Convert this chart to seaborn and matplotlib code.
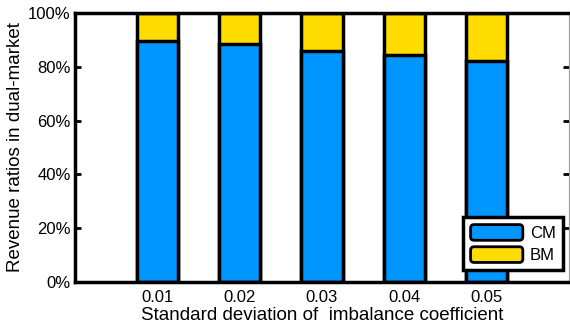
import matplotlib
matplotlib.use("Agg")
import matplotlib.pyplot as plt
import seaborn as sns
import pandas as pd
from matplotlib.patches import Patch, FancyBboxPatch
from matplotlib.legend_handler import HandlerPatch
from matplotlib.ticker import PercentFormatter

categories = ["0.01", "0.02", "0.03", "0.04", "0.05"]
cm_share = [0.897, 0.884, 0.860, 0.845, 0.822]
bm_share = [0.103, 0.116, 0.140, 0.155, 0.178]

sns.set_theme(style="white")
plt.rcParams['font.family'] = ['Liberation Sans', 'DejaVu Sans']
plt.rcParams['text.color'] = 'black'
plt.rcParams['axes.labelcolor'] = 'black'
plt.rcParams['xtick.color'] = 'black'
plt.rcParams['ytick.color'] = 'black'

blue = "#0096FF"
yellow = "#FFDC00"

df = pd.DataFrame({"cat": categories, "CM": cm_share, "BM": bm_share})
df["total"] = df["CM"] + df["BM"]

fig = plt.figure(figsize=(5.7, 3.33), dpi=100)
ax = fig.add_axes([75/570, 1 - 282/333, (569-75)/570, (282-13)/333])

sns.barplot(data=df, x="cat", y="total", color=yellow, edgecolor="black",
            linewidth=2.5, width=0.5, saturation=1, ax=ax)
sns.barplot(data=df, x="cat", y="CM", color=blue, edgecolor="black",
            linewidth=2.5, width=0.5, saturation=1, ax=ax)

ax.set_xlim(-1, 5)
ax.set_ylim(0, 1)
ax.set_yticks([0, 0.2, 0.4, 0.6, 0.8, 1.0])
ax.yaxis.set_major_formatter(PercentFormatter(1.0, decimals=0))
ax.set_xlabel("Standard deviation of  imbalance coefficient", fontsize=13.5,
              labelpad=1, color="black")
ax.set_ylabel("Revenue ratios in dual-market", fontsize=13.5, labelpad=3,
              color="black")

for side in ["left", "bottom", "top"]:
    ax.spines[side].set_color("black")
    ax.spines[side].set_linewidth(2.5)
ax.spines["right"].set_color("#999999")
ax.spines["right"].set_linewidth(0.8)

ax.tick_params(axis="y", which="both", direction="in", length=4, width=2,
               left=True, right=True, labelsize=12, colors="black", pad=3)
ax.tick_params(axis="x", length=0, labelsize=12, pad=6, colors="black")


class RoundHandler(HandlerPatch):
    def create_artists(self, legend, orig_handle, xdescent, ydescent,
                       width, height, fontsize, trans):
        p = FancyBboxPatch((-xdescent + 1, -ydescent + 0.5), width - 2, height - 1,
                           boxstyle="round,pad=0,rounding_size=2.5",
                           facecolor=orig_handle.get_facecolor(),
                           edgecolor="black", linewidth=2, transform=trans)
        return [p]


handles = [Patch(facecolor=blue, edgecolor="black", label="CM"),
           Patch(facecolor=yellow, edgecolor="black", label="BM")]
leg = ax.legend(handles=handles, loc="lower right", bbox_to_anchor=(0.987, 0.045),
                fontsize=12, frameon=True, fancybox=False, framealpha=1,
                handlelength=3.3, handleheight=1.2, handletextpad=0.35,
                borderpad=0.4, labelspacing=0.3, borderaxespad=0,
                handler_map={Patch: RoundHandler()})
leg.get_frame().set_edgecolor("black")
leg.get_frame().set_linewidth(2.5)
for t in leg.get_texts():
    t.set_color("black")

fig.savefig("out.png", dpi=100)
